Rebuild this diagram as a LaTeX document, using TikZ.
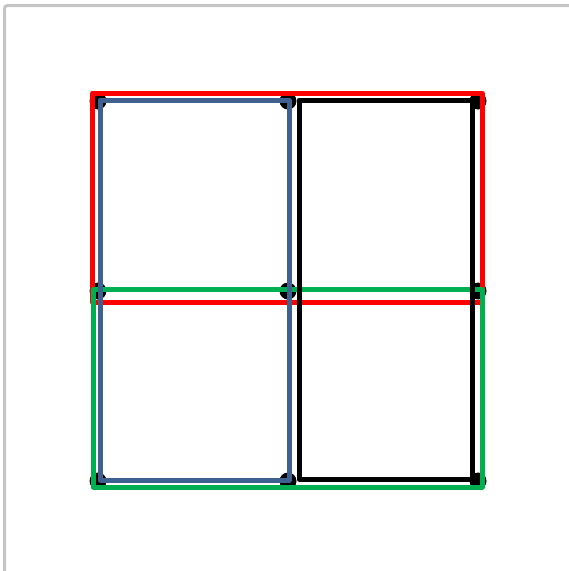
\documentclass[tikz,border=0pt]{standalone}
\usepackage{tikz}
\usetikzlibrary{positioning}
\definecolor{framegray}{HTML}{C4C4C4}
\definecolor{cellred}{HTML}{FF0000}
\definecolor{cellblue}{HTML}{3E6190}
\definecolor{cellgreen}{HTML}{00B050}
\begin{document}
\begin{tikzpicture}[
 x=1pt,y=-1pt,
 dot/.style={circle,fill=black,inner sep=0pt,minimum size=17pt},
 cell/.style={line width=5pt,line join=round,line cap=round},
]
\useasboundingbox (0,0) rectangle (569,571);
% outer frame
\draw[framegray,line width=3pt,rounded corners=3pt] (569,5.5) -- (4.5,5.5) -- (4.5,571);
% grid points
\foreach \i/\x in {1/98,2/288,3/478}
 \foreach \j/\y in {1/101,2/291,3/481}
  \node[dot] (d\j\i) at (\x,\y) {};
% rectangles
\draw[cell,cellred] ([shift={(-5.5,-8)}]d11.center) rectangle ([shift={(4,11)}]d23.center);
\draw[cell,cellgreen] ([shift={(-5,-2)}]d21.center) rectangle ([shift={(4,6)}]d33.center);
\draw[cell,cellblue] ([shift={(2,-1)}]d11.center) rectangle ([shift={(1,-1)}]d32.center);
\draw[cell,black] ([shift={(11,-1)}]d12.center) rectangle ([shift={(-6,-2)}]d33.center);
\end{tikzpicture}
\end{document}
